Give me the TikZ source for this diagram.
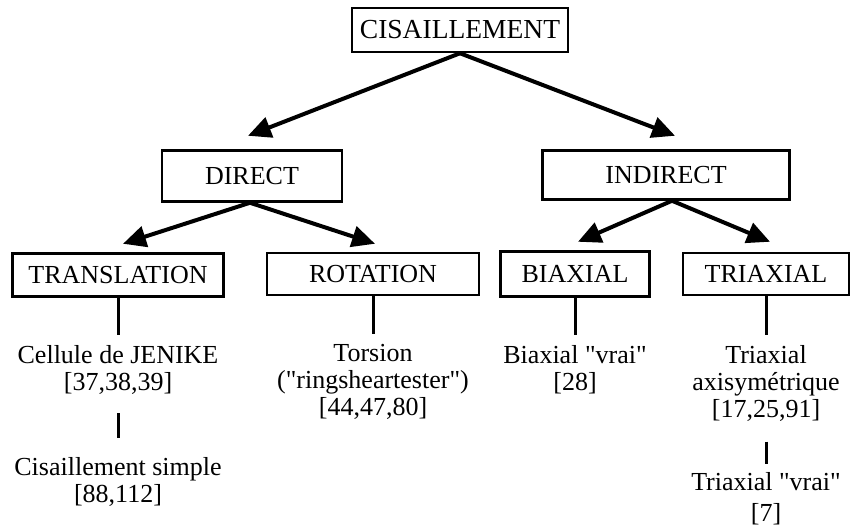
\documentclass[tikz,border=0pt]{standalone}
\usepackage{fontspec}
\setmainfont{Liberation Serif}[Ligatures=TeXOff]
\usetikzlibrary{positioning}
\usetikzlibrary{arrows.meta}
\tikzset{
	boite/.style={ % cadres de l'arbre
			draw,
			line width=2.5pt,
			inner sep=0pt,
			font=\fontsize{26}{26}\selectfont
		},
	feuille/.style={ % textes sous les cadres
			align=center,
			inner sep=0pt,
			font=\fontsize{26}{27}\selectfont
		},
	fleche/.style={
			line width=4pt,
			-{Triangle[length=23pt,width=21pt]}
		},
	trait/.style={
			line width=3pt
		}
}

\begin{document}
\begin{tikzpicture}[x=1pt, y=-1pt, node distance=47pt]
	\useasboundingbox (0,0) rectangle (850,531);
	% Nodes
	\node (cis) [boite, minimum width=216pt, minimum height=44pt, font=\fontsize{27.5}{27.5}\selectfont] at (460,30) {CISAILLEMENT};
	\node (direct) [boite, minimum width=180pt, minimum height=51pt] at (252,176) {DIRECT};
	\node (indirect) [boite, minimum width=247pt, minimum height=49pt] at (666,175) {INDIRECT};
	\node (translation) [boite, minimum width=211pt, minimum height=43pt] at (118,275) {TRANSLATION};
	\node (rotation) [boite, minimum width=212pt, minimum height=42pt] at (373,274) {ROTATION};
	\node (biaxial) [boite, minimum width=149pt, minimum height=45pt] at (575,274) {BIAXIAL};
	\node (triaxial) [boite, minimum width=166pt, minimum height=42pt] at (766,274) {TRIAXIAL};

	\node (jenike) [feuille, below=47pt of translation] {Cellule de JENIKE\\{[37,38,39]}};
	\node (simple) [feuille, below=63pt of jenike] {Cisaillement simple\\{[88,112]}};
	\node (torsion) [feuille, below=48pt of rotation] {Torsion\\("ringsheartester")\\{[44,47,80]}};
	\node (biaxvrai) [feuille, below=47pt of biaxial] {Biaxial "vrai"\\{[28]}};
	\node (axisym) [feuille, below=49pt of triaxial] {Triaxial\\axisymétrique\\{[17,25,91]}};
	\node (triaxvrai) [feuille, below=51pt of axisym] {Triaxial "vrai"\\[4pt]{[7]}};

	% Fleches
	\draw[fleche] (cis.south) -- ([xshift=-4pt,yshift=13.5pt]direct.north);
	\draw[fleche] (cis.south) -- ([xshift=9pt,yshift=13.5pt]indirect.north);
	\draw[fleche] ([xshift=-2pt]direct.south) -- ([xshift=5pt,yshift=8.5pt]translation.north);
	\draw[fleche] ([xshift=-2pt]direct.south) -- ([xshift=2pt,yshift=8pt]rotation.north);
	\draw[fleche] ([xshift=6pt]indirect.south) -- ([xshift=3pt,yshift=8.5pt]biaxial.north);
	\draw[fleche] ([xshift=6pt]indirect.south) -- ([xshift=4pt,yshift=10pt]triaxial.north);

	% Traits
	\draw[trait, shorten >=10pt] (translation) -- (jenike);
	\draw[trait, shorten >=10pt] (rotation) -- (torsion);
	\draw[trait, shorten >=10pt] (biaxial) -- (biaxvrai);
	\draw[trait, shorten >=10pt] (triaxial) -- (axisym);
	\draw[trait, shorten <=19pt, shorten >=19pt] (jenike) -- (simple);
	\draw[trait, shorten <=20pt, shorten >=9pt] (axisym) -- (triaxvrai);
\end{tikzpicture}
\end{document}
